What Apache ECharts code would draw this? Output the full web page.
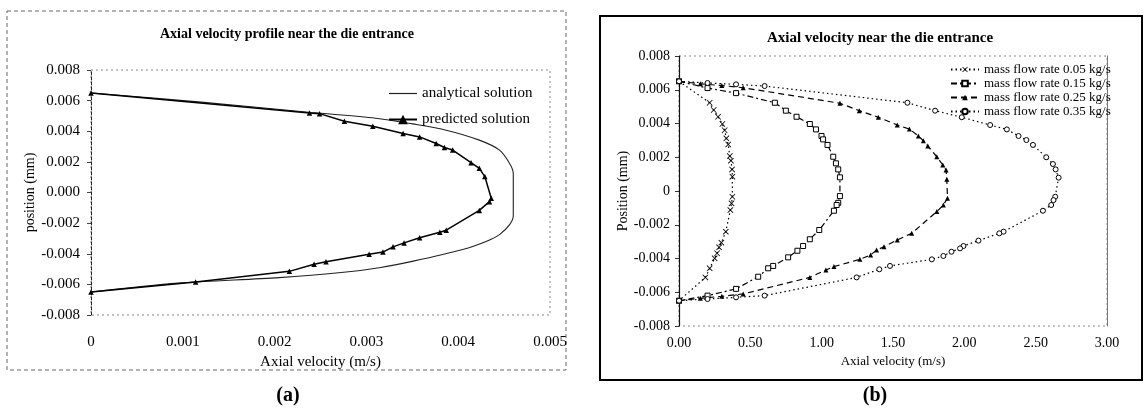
<!DOCTYPE html>
<html>
<head>
<meta charset="utf-8">
<script src="https://cdn.jsdelivr.net/npm/echarts@6/dist/echarts.min.js"></script>
<style>
  html, body { margin: 0; padding: 0; background: #fff; }
  #main { width: 1145px; height: 408px; }
</style>
</head>
<body>
<div id="main"></div>
<script>
// panel (a): analytical vs predicted, [velocity m/s, position mm]
var analyticalVel = [0, 0.0012, 0.0024, 0.0031, 0.0035, 0.00387, 0.00423, 0.00445, 0.00456, 0.0046,
  0.0046, 0.00456, 0.00445, 0.00431, 0.00405, 0.00351, 0.00314, 0.00278, 0.00205, 0.00095, 0];
var analyticalPos = [0.0065, 0.0059, 0.00522, 0.00485, 0.00448, 0.00407, 0.00342, 0.00277, 0.0019, 0.00125,
  -0.0015, -0.0021, -0.00275, -0.00318, -0.00372, -0.00448, -0.00491, -0.00519, -0.00556, -0.00592, -0.0065];

var predictedVel = [0, 0.00238, 0.00249, 0.00276, 0.00307, 0.0034, 0.00358, 0.00376, 0.00385, 0.00394,
  0.00414, 0.00423, 0.00429, 0.00436, 0.00434, 0.00423, 0.00387, 0.0038, 0.00358, 0.00341,
  0.00329, 0.00318, 0.00303, 0.00256, 0.00243, 0.00216, 0.00114, 0];
var predictedPos = [0.0065, 0.00519, 0.00515, 0.00465, 0.00432, 0.00385, 0.00363, 0.0032, 0.00294, 0.00277,
  0.00195, 0.00158, 0.00104, -0.00037, -0.0006, -0.00117, -0.00246, -0.0026, -0.00296, -0.00329,
  -0.00355, -0.00389, -0.00404, -0.00452, -0.00469, -0.00515, -0.00584, -0.0065];

// panel (b): four mass flow rates
var flow005Vel = [0, 0.215, 0.243, 0.274, 0.304, 0.32, 0.332, 0.345, 0.356, 0.364, 0.372, 0.374,
  0.374, 0.368, 0.36, 0.328, 0.297, 0.281, 0.267, 0.25, 0.215, 0.185, 0];
var flow005Pos = [0.0065, 0.00523, 0.0048, 0.0044, 0.00397, 0.0036, 0.00312, 0.00276, 0.00207, 0.0018, 0.00128, 0.00085,
  -0.00034, -0.00073, -0.00113, -0.00241, -0.00306, -0.00334, -0.00369, -0.00399, -0.00458, -0.00512, -0.0065];

var flow015Vel = [0, 0.2, 0.4, 0.672, 0.749, 0.824, 0.917, 0.96, 0.999, 1.01, 1.041, 1.081, 1.1, 1.116, 1.128,
  1.128, 1.116, 1.105, 1.086, 0.983, 0.917, 0.87, 0.83, 0.765, 0.66, 0.625, 0.555, 0.4, 0.2, 0];
var flow015Pos = [0.0065, 0.0061, 0.0058, 0.00523, 0.00476, 0.0044, 0.00397, 0.00365, 0.00326, 0.00306, 0.00273, 0.00203, 0.00164, 0.00128, 0.00081,
  -0.0003, -0.0007, -0.00083, -0.00117, -0.00231, -0.00286, -0.00326, -0.00354, -0.00393, -0.00444, -0.00458, -0.00508, -0.0058, -0.0062, -0.0065];

var flow025Vel = [0, 0.15, 0.3, 0.45, 1.128, 1.264, 1.397, 1.53, 1.615, 1.678, 1.713, 1.744, 1.807, 1.849, 1.872, 1.877,
  1.882, 1.853, 1.807, 1.631, 1.53, 1.437, 1.385, 1.343, 1.268, 1.086, 1.03, 0.917, 0.45, 0.3, 0.15, 0];
var flow025Pos = [0.0065, 0.00635, 0.00625, 0.00612, 0.0052, 0.00476, 0.00437, 0.00391, 0.00367, 0.00326, 0.00298, 0.00267, 0.00203, 0.00154, 0.00124, 0.00069,
  -0.00043, -0.00083, -0.00122, -0.00251, -0.0029, -0.0033, -0.0035, -0.00379, -0.00405, -0.00448, -0.00468, -0.00512, -0.0061, -0.00624, -0.00636, -0.0065];

var flow035Vel = [0, 0.2, 0.4, 0.6, 1.601, 1.795, 1.982, 2.181, 2.298, 2.38, 2.435, 2.481, 2.574, 2.621, 2.64, 2.661,
  2.637, 2.625, 2.609, 2.551, 2.275, 2.245, 2.099, 1.994, 1.97, 1.91, 1.853, 1.772, 1.479, 1.404, 1.245, 0.6, 0.4, 0.2, 0];
var flow035Pos = [0.0065, 0.0064, 0.00632, 0.00622, 0.00523, 0.00476, 0.00437, 0.00391, 0.00365, 0.00326, 0.00302, 0.00273, 0.002, 0.0016, 0.00128, 0.00079,
  -0.00034, -0.00054, -0.00083, -0.00117, -0.00241, -0.00251, -0.00294, -0.00326, -0.0034, -0.0036, -0.00385, -0.00405, -0.00444, -0.00464, -0.00512, -0.0062, -0.0063, -0.0064, -0.0065];

var seriesNamesA = ['analytical solution', 'predicted solution'];
var seriesNamesB = ['mass flow rate 0.05 kg/s', 'mass flow rate 0.15 kg/s', 'mass flow rate 0.25 kg/s', 'mass flow rate 0.35 kg/s'];

function pairs(xs, ys) {
  return xs.map(function (x, i) { return [x, ys[i]]; });
}

var SERIF = '"Liberation Serif", "DejaVu Serif", serif';
var asterisk = 'path://M0,1 L1,0 L5,4 L9,0 L10,1 L6,5 L10,9 L9,10 L5,6 L1,10 L0,9 L4,5 Z';
var plainLine = 'path://M0,5 L28,5 L28,6.2 L0,6.2 Z';

var chart = echarts.init(document.getElementById('main'), null, { renderer: 'canvas' });

var option = {
  backgroundColor: '#fff',
  animation: false,
  textStyle: { fontFamily: SERIF, color: '#000' },
  grid: [
    { left: 91, top: 70, width: 459, height: 245, show: true, borderColor: '#888', borderWidth: 1,
      borderType: [2, 3] },
    { left: 679, top: 56, width: 428, height: 270, show: true, borderColor: '#888', borderWidth: 1,
      borderType: [2, 3] }
  ],
  xAxis: [
    {
      gridIndex: 0, type: 'value', min: 0, max: 0.005, interval: 0.001,
      name: 'Axial velocity (m/s)', nameLocation: 'middle', nameGap: 38,
      nameTextStyle: { fontFamily: SERIF, fontSize: 15, color: '#000' },
      axisLine: { show: false }, axisTick: { show: false }, splitLine: { show: false },
      axisLabel: { margin: 20, fontFamily: SERIF, fontSize: 15, color: '#000',
        formatter: function (v) { return v === 0 ? '0' : v.toFixed(3); } }
    },
    {
      gridIndex: 1, type: 'value', min: 0, max: 3, interval: 0.5,
      name: 'Axial velocity (m/s)', nameLocation: 'middle', nameGap: 26,
      nameTextStyle: { fontFamily: SERIF, fontSize: 13, color: '#000' },
      axisLine: { show: false }, axisTick: { show: false }, splitLine: { show: false },
      axisLabel: { margin: 10, fontFamily: SERIF, fontSize: 14, color: '#000',
        formatter: function (v) { return v.toFixed(2); } }
    }
  ],
  yAxis: [
    {
      gridIndex: 0, type: 'value', min: -0.008, max: 0.008, interval: 0.002,
      name: 'position (mm)', nameLocation: 'middle', nameGap: 50,
      nameTextStyle: { fontFamily: SERIF, fontSize: 14, color: '#000' },
      axisLine: { show: true, onZero: false, lineStyle: { color: '#222', width: 1, type: [3, 2] } },
      axisTick: { show: true, length: 4, lineStyle: { color: '#444' } },
      splitLine: { show: false },
      axisLabel: { margin: 11, fontFamily: SERIF, fontSize: 15, color: '#000',
        formatter: function (v) { return Math.abs(v) < 1e-12 ? '0.000' : v.toFixed(3); } }
    },
    {
      gridIndex: 1, type: 'value', min: -0.008, max: 0.008, interval: 0.002,
      name: 'Position (mm)', nameLocation: 'middle', nameGap: 46,
      nameTextStyle: { fontFamily: SERIF, fontSize: 14, color: '#000' },
      axisLine: { show: true, onZero: false, lineStyle: { color: '#111', width: 1.2 } },
      axisTick: { show: true, length: 4, lineStyle: { color: '#333' } },
      splitLine: { show: false },
      axisLabel: { margin: 9, fontFamily: SERIF, fontSize: 14, color: '#000',
        formatter: function (v) { return Math.abs(v) < 1e-12 ? '0' : v.toFixed(3); } }
    },
    {
      gridIndex: 1, type: 'value', min: -0.008, max: 0.008, position: 'right',
      axisLine: { show: true, onZero: false, lineStyle: { color: '#777', width: 1 } },
      axisTick: { show: false }, axisLabel: { show: false }, splitLine: { show: false }
    }
  ],
  legend: [
    {
      data: [{ name: seriesNamesA[0], icon: plainLine }, { name: seriesNamesA[1] }],
      orient: 'vertical', left: 383, top: 81, itemGap: 11,
      itemWidth: 28, itemHeight: 12,
      textStyle: { fontFamily: SERIF, fontSize: 15, color: '#000' }
    },
    {
      data: seriesNamesB, orient: 'vertical', left: 945, top: 58, itemGap: 1,
      itemWidth: 28, itemHeight: 7,
      textStyle: { fontFamily: SERIF, fontSize: 13, color: '#000' }
    }
  ],
  series: [
    {
      name: seriesNamesA[0], type: 'line', xAxisIndex: 0, yAxisIndex: 0,
      data: pairs(analyticalVel, analyticalPos), smooth: 0.3, symbol: 'none',
      lineStyle: { color: '#222', width: 1.1 }, itemStyle: { color: '#222' }
    },
    {
      name: seriesNamesA[1], type: 'line', xAxisIndex: 0, yAxisIndex: 0,
      data: pairs(predictedVel, predictedPos), symbol: 'triangle', symbolSize: 5.5,
      lineStyle: { color: '#000', width: 1.5 }, itemStyle: { color: '#000' }
    },
    {
      name: seriesNamesB[0], type: 'line', xAxisIndex: 1, yAxisIndex: 1,
      data: pairs(flow005Vel, flow005Pos), symbol: asterisk, symbolSize: 6,
      lineStyle: { color: '#000', width: 1.2, type: [1.5, 3] }, itemStyle: { color: '#000' }
    },
    {
      name: seriesNamesB[1], type: 'line', xAxisIndex: 1, yAxisIndex: 1,
      data: pairs(flow015Vel, flow015Pos), symbol: 'rect', symbolSize: 5,
      lineStyle: { color: '#000', width: 1.2, type: [6, 3, 2, 3] },
      itemStyle: { color: '#fff', borderColor: '#000', borderWidth: 1 }
    },
    {
      name: seriesNamesB[2], type: 'line', xAxisIndex: 1, yAxisIndex: 1,
      data: pairs(flow025Vel, flow025Pos), symbol: 'triangle', symbolSize: 5,
      lineStyle: { color: '#000', width: 1.2, type: [6, 4] }, itemStyle: { color: '#000' }
    },
    {
      name: seriesNamesB[3], type: 'line', xAxisIndex: 1, yAxisIndex: 1,
      data: pairs(flow035Vel, flow035Pos), symbol: 'circle', symbolSize: 5,
      lineStyle: { color: '#000', width: 1.2, type: [1.5, 3] },
      itemStyle: { color: '#fff', borderColor: '#000', borderWidth: 1 }
    }
  ],
  graphic: [
    // frames around the two panels
    { type: 'rect', shape: { x: 7, y: 11, width: 559, height: 359 }, silent: true,
      style: { fill: 'none', stroke: '#666', lineWidth: 1, lineDash: [4, 3] } },
    { type: 'rect', shape: { x: 600, y: 16, width: 542, height: 364 }, silent: true,
      style: { fill: 'none', stroke: '#000', lineWidth: 2 } },
    // titles
    { type: 'text', x: 287, y: 34, silent: true,
      style: { text: 'Axial velocity profile near the die entrance', font: 'bold 14px ' + SERIF,
        fill: '#000', textAlign: 'center', textVerticalAlign: 'middle' } },
    { type: 'text', x: 880, y: 38, silent: true,
      style: { text: 'Axial velocity near the die entrance', font: 'bold 15px ' + SERIF,
        fill: '#000', textAlign: 'center', textVerticalAlign: 'middle' } },
    // panel letters
    { type: 'text', x: 288, y: 396, silent: true,
      style: { text: '(a)', font: 'bold 20px ' + SERIF, fill: '#000', textAlign: 'center', textVerticalAlign: 'middle' } },
    { type: 'text', x: 875, y: 396, silent: true,
      style: { text: '(b)', font: 'bold 20px ' + SERIF, fill: '#000', textAlign: 'center', textVerticalAlign: 'middle' } }
  ]
};

chart.setOption(option);
</script>
</body>
</html>
